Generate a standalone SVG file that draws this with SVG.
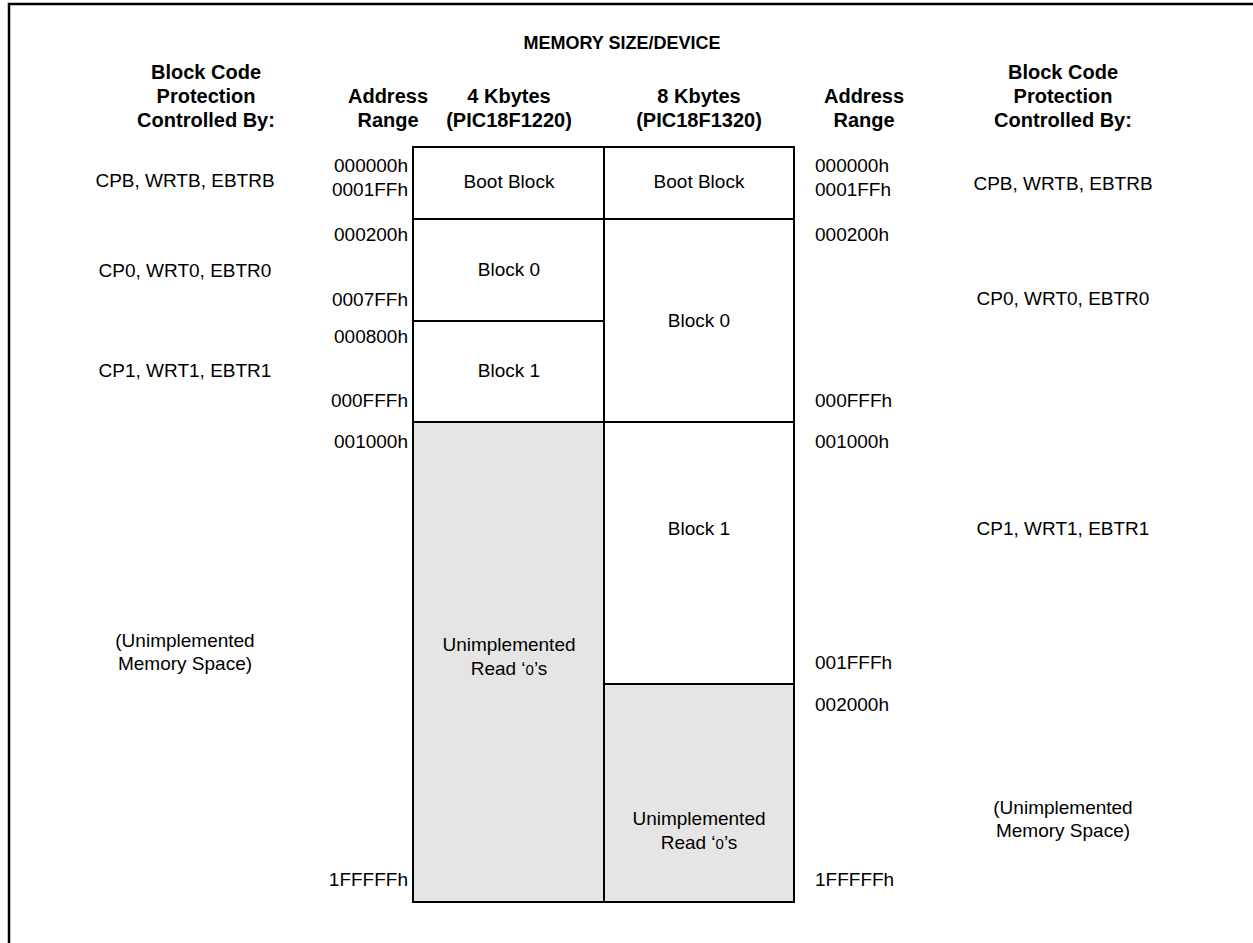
<svg xmlns="http://www.w3.org/2000/svg" width="1253" height="943" viewBox="0 0 1253 943">
<style>
text{font-family:"Liberation Sans",Arial,sans-serif;font-size:19px;fill:#000}
.b{font-weight:bold;font-size:20px}
.m{text-anchor:middle}
.e{text-anchor:end}
.cell{stroke:#000;stroke-width:2}
.w{fill:#fff}
.g{fill:#e5e5e5}
.z{font-size:15px}
</style>
<rect width="1253" height="943" fill="#fff"/>
<g id="frame" fill="none" stroke="#000" stroke-width="2.5">
<path d="M9,943 V4 H1253"/>
</g>
<g id="headers">
<text class="b m" x="622" y="49" style="font-size:18px">MEMORY SIZE/DEVICE</text>
<text class="b m" x="206" y="79">Block Code</text>
<text class="b m" x="206" y="103">Protection</text>
<text class="b m" x="206" y="127">Controlled By:</text>
<text class="b m" x="388" y="103">Address</text>
<text class="b m" x="388" y="127">Range</text>
<text class="b m" x="509" y="103">4 Kbytes</text>
<text class="b m" x="509" y="127">(PIC18F1220)</text>
<text class="b m" x="699" y="103">8 Kbytes</text>
<text class="b m" x="699" y="127">(PIC18F1320)</text>
<text class="b m" x="864" y="103">Address</text>
<text class="b m" x="864" y="127">Range</text>
<text class="b m" x="1063" y="79">Block Code</text>
<text class="b m" x="1063" y="103">Protection</text>
<text class="b m" x="1063" y="127">Controlled By:</text>
</g>
<g id="col4k">
<g id="boot4"><rect class="cell w" x="413" y="147" width="191" height="72"/><text class="m" x="509" y="188">Boot Block</text></g>
<g id="blk0_4"><rect class="cell w" x="413" y="219" width="191" height="102"/><text class="m" x="509" y="276">Block 0</text></g>
<g id="blk1_4"><rect class="cell w" x="413" y="321" width="191" height="101"/><text class="m" x="509" y="377">Block 1</text></g>
<g id="unimp4"><rect class="cell g" x="413" y="422" width="191" height="480"/><text class="m" x="509" y="651">Unimplemented</text><text class="m" x="509" y="675">Read ‘<tspan class="z">0</tspan>’s</text></g>
</g>
<g id="col8k">
<g id="boot8"><rect class="cell w" x="604" y="147" width="190" height="72"/><text class="m" x="699" y="188">Boot Block</text></g>
<g id="blk0_8"><rect class="cell w" x="604" y="219" width="190" height="203"/><text class="m" x="699" y="327">Block 0</text></g>
<g id="blk1_8"><rect class="cell w" x="604" y="422" width="190" height="262"/><text class="m" x="699" y="535">Block 1</text></g>
<g id="unimp8"><rect class="cell g" x="604" y="684" width="190" height="218"/><text class="m" x="699" y="825">Unimplemented</text><text class="m" x="699" y="849">Read ‘<tspan class="z">0</tspan>’s</text></g>
</g>
<g id="addrL">
<text class="e" x="408" y="172">000000h</text>
<text class="e" x="408" y="196">0001FFh</text>
<text class="e" x="408" y="241">000200h</text>
<text class="e" x="408" y="306">0007FFh</text>
<text class="e" x="408" y="343">000800h</text>
<text class="e" x="408" y="407">000FFFh</text>
<text class="e" x="408" y="448">001000h</text>
<text class="e" x="408" y="886">1FFFFFh</text>
</g>
<g id="addrR">
<text x="815" y="172">000000h</text>
<text x="815" y="196">0001FFh</text>
<text x="815" y="241">000200h</text>
<text x="815" y="407">000FFFh</text>
<text x="815" y="448">001000h</text>
<text x="815" y="669">001FFFh</text>
<text x="815" y="711">002000h</text>
<text x="815" y="886">1FFFFFh</text>
</g>
<g id="protL">
<text class="m" x="185" y="187">CPB, WRTB, EBTRB</text>
<text class="m" x="185" y="277">CP0, WRT0, EBTR0</text>
<text class="m" x="185" y="377">CP1, WRT1, EBTR1</text>
<text class="m" x="185" y="647">(Unimplemented</text>
<text class="m" x="185" y="670">Memory Space)</text>
</g>
<g id="protR">
<text class="m" x="1063" y="190">CPB, WRTB, EBTRB</text>
<text class="m" x="1063" y="305">CP0, WRT0, EBTR0</text>
<text class="m" x="1063" y="535">CP1, WRT1, EBTR1</text>
<text class="m" x="1063" y="814">(Unimplemented</text>
<text class="m" x="1063" y="837">Memory Space)</text>
</g>
<g id="connectors"/>
</svg>
